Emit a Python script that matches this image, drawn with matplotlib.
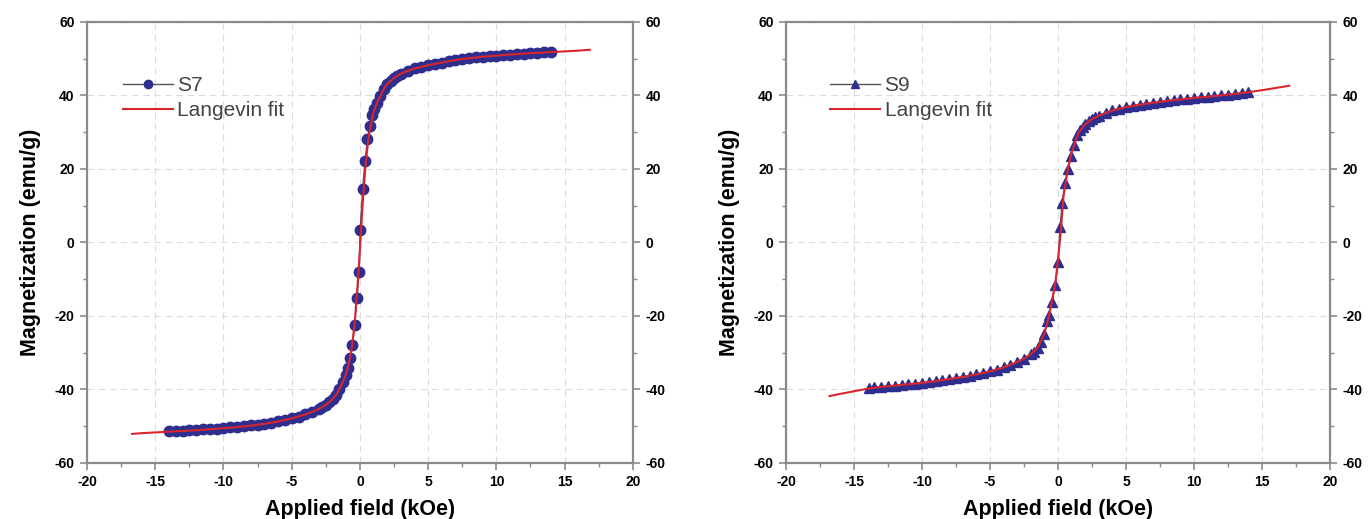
#!/usr/bin/env python3
# coding: utf-8

import matplotlib
matplotlib.use('Agg')
import matplotlib.pyplot as plt
from matplotlib.ticker import MultipleLocator

# --- S7 measured M(H)
s7_field = [-14.0, -13.5, -13.0, -12.5, -12.0, -11.5, -11.0, -10.5, -10.0, -9.5,
            -9.0, -8.5, -8.0, -7.5, -7.0, -6.5, -6.0, -5.5, -5.0, -4.5,
            -4.0, -3.5, -3.0, -2.75, -2.5, -2.25, -2.0, -1.75, -1.5, -1.25,
            -1.05, -0.9, -0.72, -0.55, -0.38, -0.22, -0.05,
            0.02, 0.2, 0.37, 0.55, 0.72, 0.88, 1.05, 1.25, 1.5, 1.75,
            2.0, 2.25, 2.5, 2.75, 3.0, 3.5, 4.0, 4.5, 5.0, 5.5,
            6.0, 6.5, 7.0, 7.5, 8.0, 8.5, 9.0, 9.5, 10.0, 10.5,
            11.0, 11.5, 12.0, 12.5, 13.0, 13.5, 14.0]
s7_mag = [-51.4, -51.3, -51.2, -51.1, -51.0, -50.9, -50.8, -50.65, -50.5, -50.35,
          -50.2, -50.0, -49.8, -49.55, -49.3, -49.0, -48.7, -48.3, -47.9, -47.4,
          -46.8, -46.1, -45.3, -44.8, -44.2, -43.5, -42.6, -41.5, -39.9, -38.0,
          -36.2, -34.3, -31.5, -28.0, -22.5, -15.0, -8.0,
          3.5, 14.5, 22.0, 28.0, 31.7, 34.7, 36.3, 38.0, 39.8, 41.7,
          43.1, 44.0, 44.7, 45.3, 45.9, 46.6, 47.3, 47.8, 48.2, 48.6,
          48.9, 49.3, 49.6, 49.9, 50.1, 50.3, 50.5, 50.65, 50.8, 50.95,
          51.1, 51.2, 51.35, 51.45, 51.55, 51.65, 51.75]

# --- S7 Langevin fit
s7_fit_field = [-16.7, -16, -15, -14, -13, -12, -11, -10, -9, -8,
                -7, -6, -5, -4, -3.5, -3, -2.5, -2, -1.75, -1.5,
                -1.25, -1.0, -0.8, -0.6, -0.4, -0.2, 0, 0.2, 0.4, 0.6,
                0.8, 1.0, 1.25, 1.5, 1.75, 2, 2.5, 3, 3.5, 4,
                5, 6, 7, 8, 9, 10, 11, 12, 13, 14,
                15, 16, 16.85]
s7_fit_mag = [-52.1, -51.9, -51.7, -51.5, -51.3, -51.1, -50.85, -50.55, -50.25, -49.85,
              -49.35, -48.75, -47.9, -46.8, -46.1, -45.3, -44.2, -42.6, -41.5, -39.9,
              -38.0, -35.6, -32.8, -28.8, -22.5, -13.0, -2.0, 10.5, 20.5, 27.5,
              32.0, 35.4, 38.0, 39.8, 41.7, 43.1, 44.7, 45.9, 46.6, 47.3,
              48.2, 48.9, 49.6, 50.1, 50.5, 50.8, 51.1, 51.35, 51.55, 51.75,
              51.95, 52.15, 52.4]

# --- S9 measured M(H)
s9_field = [-13.9, -13.5, -13.0, -12.5, -12.0, -11.5, -11.0, -10.5, -10.0, -9.5,
            -9.0, -8.5, -8.0, -7.5, -7.0, -6.5, -6.0, -5.5, -5.0, -4.5,
            -4.0, -3.5, -3.0, -2.5, -2.0, -1.8, -1.5, -1.25, -1.0, -0.8,
            -0.66, -0.44, -0.2,
            0.0, 0.15, 0.3, 0.51, 0.74, 0.95, 1.15, 1.4, 1.6, 1.8,
            2.0, 2.25, 2.5, 2.75, 3.0, 3.5, 4.0, 4.5, 5.0, 5.5,
            6.0, 6.5, 7.0, 7.5, 8.0, 8.5, 9.0, 9.5, 10.0, 10.5,
            11.0, 11.5, 12.0, 12.5, 13.0, 13.5, 14.0]
s9_mag = [-39.5, -39.4, -39.25, -39.1, -38.95, -38.8, -38.6, -38.4, -38.2, -38.0,
          -37.75, -37.5, -37.2, -36.9, -36.6, -36.25, -35.9, -35.5, -35.1, -34.6,
          -34.0, -33.3, -32.5, -31.6, -30.4, -29.8, -28.6, -27.0, -24.8, -21.5,
          -19.7, -16.2, -11.6,
          -5.3, 4.2, 10.7, 16.2, 20.0, 23.5, 26.5, 29.2, 30.6, 31.5,
          32.2, 32.9, 33.5, 34.0, 34.5, 35.3, 35.9, 36.4, 36.8, 37.15,
          37.45, 37.75, 38.0, 38.25, 38.5, 38.7, 38.9, 39.1, 39.3, 39.45,
          39.6, 39.8, 40.0, 40.2, 40.4, 40.6, 40.8]

# --- S9 Langevin fit
s9_fit_field = [-16.8, -16, -15, -14, -13, -12, -11, -10, -9, -8,
                -7, -6, -5, -4, -3, -2.5, -2, -1.5, -1.0, -0.7,
                -0.4, -0.2, 0, 0.2, 0.4, 0.7, 1.0, 1.5, 2.0, 2.5,
                3, 4, 5, 6, 7, 8, 9, 10, 11, 12,
                13, 14, 15, 16, 17]
s9_fit_mag = [-41.8, -41.2, -40.5, -39.8, -39.3, -38.95, -38.6, -38.2, -37.75, -37.2,
              -36.6, -35.9, -35.1, -34.0, -32.5, -31.6, -30.4, -28.6, -24.8, -20.5,
              -15.0, -11.0, -4.5, 3.0, 12.5, 19.5, 24.5, 29.8, 32.2, 33.5,
              34.5, 35.9, 36.8, 37.45, 38.0, 38.5, 38.9, 39.3, 39.6, 40.0,
              40.4, 40.85, 41.4, 42.0, 42.6]

panels = [
    ('S7', 'o', s7_field, s7_mag, s7_fit_field, s7_fit_mag, 0.064),
    ('S9', '^', s9_field, s9_mag, s9_fit_field, s9_fit_mag, 0.080),
]

plt.rcParams['font.family'] = ['Liberation Sans', 'DejaVu Sans']
plt.rcParams['axes.unicode_minus'] = False

fig = plt.figure(figsize=(13.68, 5.19), dpi=100)
ax_pos = [[0.0636, 0.108, 0.399, 0.850],
          [0.5746, 0.108, 0.3977, 0.850]]

spine_c = '#8a8a8a'
for (name, mk, hx, hy, fx, fy, leg_x), pos in zip(panels, ax_pos):
    ax = fig.add_axes(pos)
    ax.plot(hx, hy, color='#4a4a6a', lw=1.0, marker=mk, ms=7.5,
            mfc='#2e2e8e', mec='#2e2e8e', label=name, zorder=3)
    ax.plot(fx, fy, color='#d8262c', lw=1.5, label='Langevin fit', zorder=4)

    ax.set_xlim(-20, 20)
    ax.set_ylim(-60, 60)
    ax.xaxis.set_major_locator(MultipleLocator(5))
    ax.xaxis.set_minor_locator(MultipleLocator(2.5))
    ax.yaxis.set_major_locator(MultipleLocator(20))
    ax.yaxis.set_minor_locator(MultipleLocator(10))
    ax.grid(True, which='major', color='#dcdcdc', ls=(0, (6, 4)), lw=0.8)
    ax.set_axisbelow(True)

    for s in ax.spines.values():
        s.set_color(spine_c)
        s.set_linewidth(1.6)
    ax.tick_params(which='both', direction='out', color=spine_c,
                   left=True, right=True, labelright=True,
                   top=False, bottom=True)
    ax.tick_params(which='major', length=5, width=1.2, labelsize=10, pad=4)
    ax.tick_params(which='minor', length=3, width=1.0)
    for lab in ax.get_xticklabels():
        lab.set_fontweight('bold')
    for t in ax.yaxis.get_major_ticks():
        t.label1.set_fontweight('bold')
        t.label2.set_fontweight('bold')

    ax.set_xlabel('Applied field (kOe)', fontsize=15.5, fontweight='bold',
                  labelpad=7)
    ax.set_ylabel('Magnetization (emu/g)', fontsize=15.5, fontweight='bold',
                  labelpad=10)

    leg = ax.legend(loc='upper left', bbox_to_anchor=(leg_x - 0.033, 0.92),
                    frameon=False, fontsize=15, handlelength=2.4,
                    labelspacing=0.3, handletextpad=0.2)
    leg.legend_handles[0].set_markersize(6)
    leg.legend_handles[0].set_color('#555555')
    for t in leg.get_texts():
        t.set_color('#444444')

fig.savefig('out.png', dpi=100)
